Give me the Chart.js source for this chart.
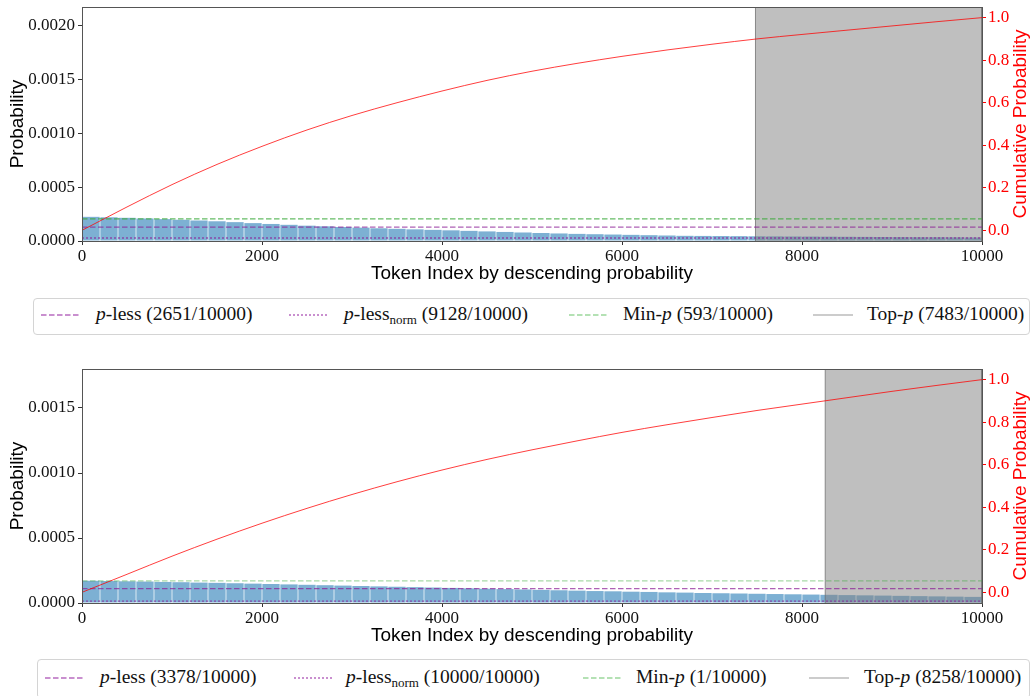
<!DOCTYPE html>
<html>
<head>
<meta charset="utf-8">
<script src="https://cdn.jsdelivr.net/npm/chart.js@4.4.1/dist/chart.umd.min.js"></script>
<style>
  body { margin: 0; background: #fff; }
  #page { position: relative; width: 1032px; height: 696px; overflow: hidden; }
  .panel { position: absolute; left: 0; width: 1032px; height: 290px; }
  .legend { position: absolute; border: 1px solid #d4d4d4; border-radius: 4px; box-sizing: border-box;
            font-family: "Liberation Serif", serif; font-size: 19.5px; color: #111; }
  .legend svg { position: absolute; }
  .legend .txt { position: absolute; white-space: nowrap; line-height: 20px; }
  .legend sub { font-size: 13px; vertical-align: -4px; line-height: 0; }
</style>
</head>
<body>
<div id="page">
  <div class="panel" style="top:0"><canvas id="chart1"></canvas></div>
  <div class="legend" id="legend1" style="left:33px;top:298px;width:997px;height:37px"></div>
  <div class="panel" style="top:362px"><canvas id="chart2"></canvas></div>
  <div class="legend" id="legend2" style="left:37px;top:659px;width:993px;height:40px"></div>
</div>
<script>
// token bins (200 tokens each), probabilities in units of 1e-4
const binCenters = Array.from({ length: 50 }, (_, i) => i * 200 + 100);
const probs1 = [
  2.24, 2.20, 2.15, 2.09, 2.03, 1.97, 1.90, 1.83, 1.75, 1.66,
  1.58, 1.50, 1.42, 1.36, 1.30, 1.24, 1.18, 1.13, 1.08, 1.03,
  0.99, 0.94, 0.89, 0.84, 0.79, 0.74, 0.70, 0.66, 0.63, 0.60,
  0.57, 0.54, 0.51, 0.48, 0.47, 0.46, 0.45, 0.44, 0.43, 0.42,
  0.41, 0.40, 0.39, 0.38, 0.37, 0.36, 0.35, 0.35, 0.34, 0.33
];
const probs2 = [
  1.71, 1.69, 1.67, 1.65, 1.62, 1.60, 1.57, 1.55, 1.52, 1.49,
  1.46, 1.43, 1.40, 1.37, 1.34, 1.31, 1.28, 1.25, 1.22, 1.19,
  1.16, 1.13, 1.10, 1.07, 1.04, 1.01, 0.98, 0.95, 0.92, 0.90,
  0.87, 0.85, 0.82, 0.80, 0.77, 0.75, 0.73, 0.71, 0.69, 0.67,
  0.65, 0.63, 0.61, 0.59, 0.57, 0.55, 0.53, 0.51, 0.49, 0.47
];

// cumulative probability (right axis)
const cumX = [0, 500, 1000, 1500, 2000, 2500, 3000, 3500, 4000, 4500, 5000,
              5500, 6000, 6500, 7000, 7500, 8000, 8500, 9000, 9500, 10000];
const cum1 = [0.0002, 0.11, 0.215, 0.31, 0.395, 0.472, 0.54, 0.60, 0.655, 0.705, 0.748,
              0.785, 0.818, 0.848, 0.875, 0.90, 0.921, 0.941, 0.961, 0.981, 1.0];
const cum2 = [0.0002, 0.085, 0.17, 0.25, 0.325, 0.395, 0.46, 0.52, 0.575, 0.625, 0.67,
              0.712, 0.752, 0.788, 0.822, 0.855, 0.885, 0.915, 0.945, 0.973, 1.0];

// thresholds and cut-offs, [top panel, bottom panel]
const pLess = [0.000129, 0.000110];
const pLessNorm = [0.000028, 0.000015];
const minP = [0.000205, 0.000170];
const topP = [7483, 8258];
const counts = [[2651, 9128, 593, 7483], [3378, 10000, 1, 8258]];
const vocab = 10000;

// axes
const xTicks = [0, 2000, 4000, 6000, 8000, 10000];
const probTicks = [[0, 0.0005, 0.001, 0.0015, 0.002], [0, 0.0005, 0.001, 0.0015]];
const probMax = [0.00217, 0.0018];
const cumTicks = [0, 0.2, 0.4, 0.6, 0.8, 1.0];

const legendNames = ['<i>p</i>-less', '<i>p</i>-less<sub>norm</sub>', 'Min-<i>p</i>', 'Top-<i>p</i>'];

const sansFamily = '"Liberation Sans", sans-serif';

// axes frame, plus the right-hand label (matplotlib reads it bottom-to-top)
const frame = {
  id: 'frame',
  afterDraw(chart) {
    const { ctx, chartArea: a } = chart;
    ctx.save();
    ctx.strokeStyle = '#555';
    ctx.lineWidth = 1;
    ctx.strokeRect(Math.round(a.left) + 0.5, Math.round(a.top) + 0.5,
                   Math.round(a.right - a.left), Math.round(a.bottom - a.top));
    ctx.translate(1021, (a.top + a.bottom) / 2);
    ctx.rotate(-Math.PI / 2);
    ctx.fillStyle = 'red';
    ctx.font = '19px ' + sansFamily;
    ctx.textAlign = 'center';
    ctx.textBaseline = 'middle';
    ctx.fillText('Cumulative Probability', 0, 0);
    ctx.restore();
  }
};

function hline(v, color, dash, order) {
  return {
    type: 'line', data: [{ x: 0, y: v }, { x: vocab, y: v }],
    borderColor: color, borderWidth: 1.3, borderDash: dash,
    pointRadius: 0, order: order
  };
}

function noPad(s) { s.paddingTop = 0; s.paddingBottom = 0; s.paddingLeft = 0; s.paddingRight = 0; }

function makeChart(id, k, probs, cum, greenColor) {
  const serif = { family: '"Liberation Serif", serif', size: 17 };
  const sans = { family: sansFamily, size: 19 };
  return new Chart(document.getElementById(id), {
    type: 'bar',
    data: {
      datasets: [
        {
          type: 'bar',
          data: binCenters.map((x, i) => ({ x: x, y: probs[i] * 1e-4 })),
          backgroundColor: 'rgba(31,119,180,0.58)',
          borderWidth: 0, barPercentage: 0.96, categoryPercentage: 1, order: 10
        },
        {
          type: 'line',
          data: [{ x: topP[k], y: 0 }, { x: topP[k], y: probMax[k] },
                 { x: vocab, y: probMax[k] }, { x: vocab, y: 0 }],
          borderColor: 'rgba(110,110,110,0.8)', borderWidth: 1,
          backgroundColor: 'rgba(128,128,128,0.5)', fill: 'origin',
          pointRadius: 0, order: 5
        },
        hline(minP[k], greenColor, [5.5, 2.5], 3),
        hline(pLess[k], 'rgba(140,30,150,0.7)', [5.5, 2.5], 2),
        hline(pLessNorm[k], 'rgba(140,30,150,0.7)', [2, 2], 2),
        {
          type: 'line', yAxisID: 'y2',
          data: cumX.map((x, i) => ({ x: x, y: cum[i] })),
          borderColor: 'rgba(255,0,0,0.85)', borderWidth: 0.9,
          pointRadius: 0, cubicInterpolationMode: 'monotone', order: 0
        }
      ]
    },
    options: {
      animation: false,
      responsive: true,
      maintainAspectRatio: false,
      layout: { padding: { top: 7, left: 0, right: 0, bottom: 0 } },
      plugins: { legend: { display: false }, tooltip: { enabled: false }, filler: { drawTime: 'beforeDatasetDraw' } },
      scales: {
        x: {
          type: 'linear', min: 0, max: vocab, offset: false,
          grid: { offset: false, drawOnChartArea: false, tickLength: 4, tickColor: '#333' },
          border: { display: false },
          ticks: { font: serif, color: '#111', padding: 1, maxRotation: 0, callback: v => String(v) },
          afterBuildTicks: s => { s.ticks = xTicks.map(v => ({ value: v })); },
          afterFit: s => { s.height = 49; noPad(s); },
          title: { display: true, text: 'Token Index by descending probability', font: sans, color: '#000', padding: { top: 0, bottom: 5 } }
        },
        y: {
          min: 0, max: probMax[k],
          grid: { drawOnChartArea: false, tickLength: 4, tickColor: '#333' },
          border: { display: false },
          ticks: { font: serif, color: '#111', padding: 3, callback: v => v.toFixed(4) },
          afterBuildTicks: s => { s.ticks = probTicks[k].map(v => ({ value: v })); },
          afterFit: s => { s.width = 82; noPad(s); },
          title: { display: true, text: 'Probability', font: sans, color: '#000', padding: { top: 6, bottom: 0 } }
        },
        y2: {
          position: 'right', min: -0.05, max: 1.05,
          grid: { drawOnChartArea: false, tickLength: 4, tickColor: 'red' },
          border: { display: false },
          ticks: { font: serif, color: 'red', padding: 2, callback: v => v.toFixed(1) },
          afterBuildTicks: s => { s.ticks = cumTicks.map(v => ({ value: v })); },
          afterFit: s => { s.width = 50; noPad(s); }
        }
      }
    },
    plugins: [frame]
  });
}

function swatch(color, dash, width) {
  return '<line x1="0" y1="5" x2="40" y2="5" stroke="' + color + '" stroke-width="' + width + '"' +
         (dash ? ' stroke-dasharray="' + dash + '"' : '') + '/>';
}

function makeLegend(id, k, layout, lineY, greenSw) {
  const el = document.getElementById(id);
  const sws = [
    swatch('rgba(170,80,180,0.85)', '5.5 2.5', 1.3),
    swatch('rgba(170,80,180,0.85)', '2 2', 1.3),
    swatch(greenSw, '5.5 2.5', 1.3),
    swatch('rgba(128,128,128,0.8)', null, 1)
  ];
  let html = '';
  for (let i = 0; i < 4; i++) {
    const [sx, tx] = layout[i];
    html += '<svg width="40" height="10" style="left:' + sx + 'px;top:' + (lineY - 5) + 'px">' + sws[i] + '</svg>';
    html += '<div class="txt" style="left:' + tx + 'px;top:' + (lineY - 11) + 'px">' +
            legendNames[i] + ' (' + counts[k][i] + '/' + vocab + ')</div>';
  }
  el.innerHTML = html;
}

makeChart('chart1', 0, probs1, cum1, 'rgba(60,170,60,0.8)');
makeChart('chart2', 1, probs2, cum2, 'rgba(60,170,60,0.45)');
makeLegend('legend1', 0, [[7, 62], [255, 310], [535, 589], [779, 833]], 16, 'rgba(90,190,90,0.6)');
makeLegend('legend2', 1, [[7, 62], [256, 308], [545, 598], [771, 826]], 18, 'rgba(90,190,90,0.6)');
</script>
</body>
</html>
